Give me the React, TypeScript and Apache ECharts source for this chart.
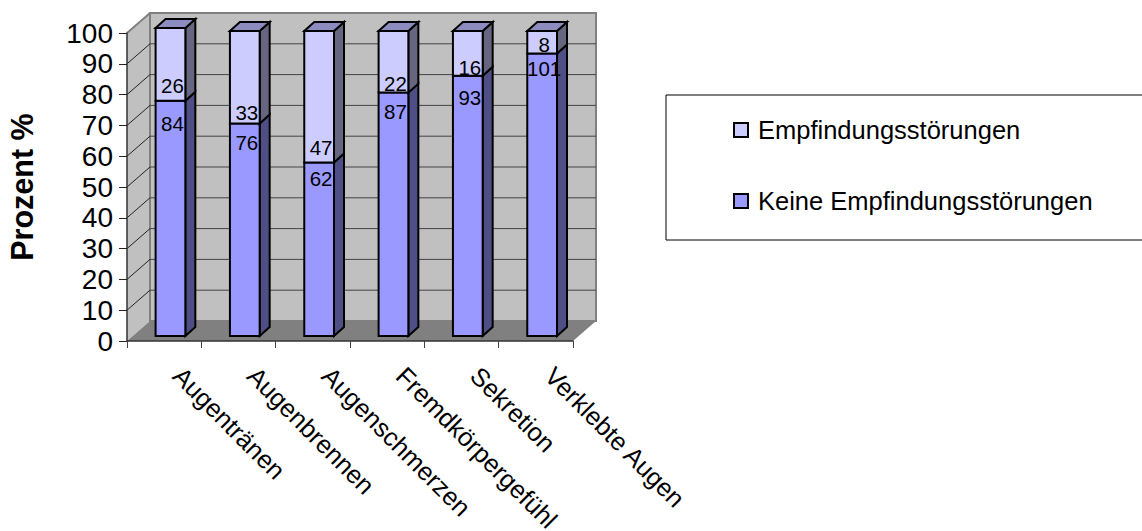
import React, { useEffect, useRef } from "react";
import * as echarts from "echarts";

const categories = ["Augentränen", "Augenbrennen", "Augenschmerzen", "Fremdkörpergefühl", "Sekretion", "Verklebte Augen"];
const keineStoerungen = [84, 76, 62, 87, 93, 101];
const stoerungen = [26, 33, 47, 22, 16, 8];
const yTicks = [0, 10, 20, 30, 40, 50, 60, 70, 80, 90, 100];
const lowerLabelNudge = [23, 19, 16, 19, 22, 15];
const upperLabelNudge = [-15, -11, -15, -9, -8, -9];
const barHeightScale = [1, 0.99, 0.99, 0.99, 0.99, 0.99];

const FONT = "Liberation Sans";
const WALL = { dx: 23, dy: -20 };
const BAR = { dx: 6.3, dy: -5, depthX: 10, depthY: -9 };

const poly = (points: number[][], fill: string, stroke?: string, lineWidth = 1) => ({
  type: "polygon",
  shape: { points },
  style: { fill, stroke: stroke || "none", lineWidth },
});

const line = (a: number[], b: number[], stroke: string, lineWidth = 1) => ({
  type: "line",
  shape: { x1: a[0], y1: a[1], x2: b[0], y2: b[1] },
  style: { stroke, lineWidth },
});

function segmentSeries(
  name: string,
  frontColor: string,
  sideColor: string,
  values: number[],
  totals: number[],
  baseOf: (i: number) => number,
  nudge: number[],
  withTop: boolean,
) {
  return {
    name,
    type: "custom",
    clip: false,
    z: 4,
    itemStyle: { color: frontColor, borderColor: "#000", borderWidth: 2 },
    data: values.map((v, i) => [i, baseOf(i), baseOf(i) + (v / totals[i]) * 100, v]),
    encode: { x: 0, y: [1, 2] },
    renderItem: (_: any, api: any) => {
      const i = api.value(0);
      const k = barHeightScale[i];
      const w = api.size([1, 0])[0] * 0.4;
      const p0 = api.coord([i, api.value(1) * k]);
      const p1 = api.coord([i, api.value(2) * k]);
      const l = p0[0] + BAR.dx - w / 2;
      const r = l + w;
      const yb = p0[1] + BAR.dy;
      const yt = p1[1] + BAR.dy;
      const dx = BAR.depthX;
      const dy = BAR.depthY;
      const children: any[] = [
        poly([[r, yb], [r + dx, yb + dy], [r + dx, yt + dy], [r, yt]], sideColor, "#000", 2),
        poly([[l, yb], [r, yb], [r, yt], [l, yt]], frontColor, "#000", 2),
      ];
      if (withTop) {
        children.push(poly([[l, yt], [l + dx, yt + dy], [r + dx, yt + dy], [r, yt]], "#8c8cc0", "#000", 2));
      }
      const labelY = (withTop ? yb : yt) + nudge[i];
      children.push({
        type: "text",
        z2: 10,
        style: {
          text: String(api.value(3)),
          x: l + w / 2 + 2,
          y: labelY,
          align: "center",
          verticalAlign: "middle",
          fill: "#000",
          font: `20.5px "${FONT}"`,
        },
      });
      return { type: "group", children };
    },
  };
}

export default function App() {
  const ref = useRef<HTMLDivElement>(null);
  useEffect(() => {
    const chart = echarts.init(ref.current!, undefined, { renderer: "svg" });
    const totals = keineStoerungen.map((v, i) => v + stoerungen[i]);
    chart.setOption({
      animation: false,
      textStyle: { fontFamily: FONT },
      grid: { left: 127, top: 33, width: 446, height: 308, outerBoundsMode: "none" },
      legend: {
        left: 666,
        top: 95,
        orient: "vertical",
        data: [
          { name: "Empfindungsstörungen", itemStyle: { color: "#ccccff", borderColor: "#000", borderWidth: 2 } },
          { name: "Keine Empfindungsstörungen", itemStyle: { color: "#9999ff", borderColor: "#000", borderWidth: 2 } },
        ],
        backgroundColor: "#fff",
        borderColor: "#000",
        borderWidth: 1,
        padding: [22, 51, 26, 67],
        itemWidth: 14,
        itemHeight: 14,
        itemGap: 45,
        icon: "rect",
        textStyle: { fontFamily: FONT, fontSize: 25.5, color: "#000", padding: [0, 0, 0, 5] },
      },
      xAxis: {
        type: "category",
        data: categories,
        z: 6,
        axisLine: { lineStyle: { color: "#333", width: 1.5 } },
        axisTick: { show: true, length: 7, lineStyle: { color: "#444" } },
        axisLabel: {
          interval: 0,
          rotate: -45,
          margin: 17,
          padding: [0, 0, 0, 19],
          fontFamily: FONT,
          fontSize: 25.5,
          color: "#000",
        },
      },
      yAxis: {
        type: "value",
        min: 0,
        max: 100,
        interval: 10,
        z: 6,
        name: "Prozent %",
        nameLocation: "middle",
        nameRotate: 90,
        nameGap: 90,
        nameTextStyle: { fontFamily: FONT, fontSize: 30.5, fontWeight: "bold", color: "#000" },
        axisLine: { show: true, lineStyle: { color: "#333", width: 1.5 } },
        axisTick: { show: true, length: 8, lineStyle: { color: "#222" } },
        axisLabel: { margin: 14, fontFamily: FONT, fontSize: 28, color: "#000" },
        splitLine: { show: false },
      },
      series: [
        {
          type: "custom",
          silent: true,
          clip: false,
          z: 1,
          data: [[0, 0]],
          renderItem: (params: any, api: any) => {
            const c = params.coordSys;
            const x0 = c.x;
            const x1 = c.x + c.width;
            const y0 = c.y;
            const y1 = c.y + c.height;
            const { dx, dy } = WALL;
            return {
              type: "group",
              children: [
                poly([[x0, y0], [x0 + dx, y0 + dy], [x0 + dx, y1 + dy], [x0, y1]], "#c0c0c0"),
                poly([[x0 + dx, y0 + dy], [x1 + dx, y0 + dy], [x1 + dx, y1 + dy], [x0 + dx, y1 + dy]], "#c0c0c0", "#808080", 2),
                poly([[x0, y1], [x0 + dx, y1 + dy], [x1 + dx, y1 + dy], [x1, y1]], "#808080"),
                line([x0, y0], [x0 + dx, y0 + dy], "#808080", 2),
                line([x0 + dx, y0 + dy], [x0 + dx, y1 + dy], "#808080", 2),
              ],
            };
          },
        },
        {
          type: "custom",
          silent: true,
          clip: false,
          z: 2,
          data: yTicks.slice(1, -1).map((t) => [0, t]),
          encode: { x: 0, y: 1 },
          renderItem: (params: any, api: any) => {
            const c = params.coordSys;
            const y = api.coord([0, api.value(1)])[1];
            const { dx, dy } = WALL;
            return {
              type: "group",
              children: [
                line([c.x, y], [c.x + dx, y + dy], "#222", 1),
                line([c.x + dx, y + dy], [c.x + c.width + dx, y + dy], "#444", 1),
              ],
            };
          },
        },
        segmentSeries("Keine Empfindungsstörungen", "#9999ff", "#4f4f85", keineStoerungen, totals, () => 0, lowerLabelNudge, false),
        segmentSeries(
          "Empfindungsstörungen",
          "#ccccff",
          "#666680",
          stoerungen,
          totals,
          (i) => (keineStoerungen[i] / totals[i]) * 100,
          upperLabelNudge,
          true,
        ),
      ],
    });
    return () => chart.dispose();
  }, []);
  return (
    <div
      ref={ref}
      style={{ position: "absolute", left: 0, top: 0, width: 1142, height: 531, overflow: "hidden", background: "#fff" }}
    />
  );
}
